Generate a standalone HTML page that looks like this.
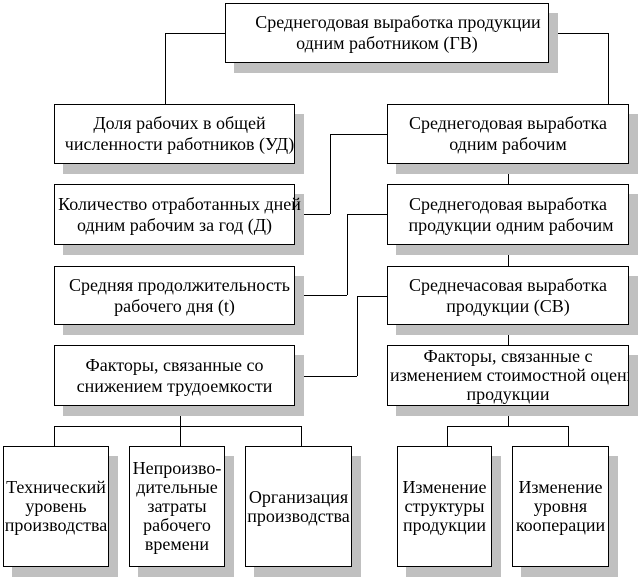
<!DOCTYPE html>
<html><head><meta charset="utf-8"><style>
body{margin:0;width:639px;height:580px;background:#fff;position:relative;overflow:hidden;font-family:"Liberation Serif","Times New Roman",serif;font-size:18px;color:#000}
.b{position:absolute;box-sizing:border-box;border:1px solid #000;background:#fff;box-shadow:9px 10px 0 #c0c0c0;display:flex;align-items:center;justify-content:center;text-align:center;line-height:21px;white-space:nowrap}
.b span{display:block}
.h{position:absolute;height:1px;background:#000}
.v{position:absolute;width:1px;background:#000}
.s{line-height:19px}
</style></head><body>
<div class="h" style="left:165px;top:33px;width:60px"></div>
<div class="v" style="left:165px;top:33px;height:71px"></div>
<div class="h" style="left:549px;top:33px;width:59px"></div>
<div class="v" style="left:608px;top:33px;height:71px"></div>
<div class="h" style="left:330px;top:134px;width:57px"></div>
<div class="v" style="left:330px;top:134px;height:80px"></div>
<div class="h" style="left:295px;top:214px;width:35px"></div>
<div class="h" style="left:347px;top:214px;width:40px"></div>
<div class="v" style="left:347px;top:214px;height:81px"></div>
<div class="h" style="left:295px;top:295px;width:52px"></div>
<div class="h" style="left:357px;top:296px;width:30px"></div>
<div class="v" style="left:357px;top:296px;height:80px"></div>
<div class="h" style="left:295px;top:376px;width:62px"></div>
<div class="v" style="left:508px;top:164px;height:262px"></div>
<div class="h" style="left:447px;top:426px;width:122px"></div>
<div class="v" style="left:447px;top:426px;height:20px"></div>
<div class="v" style="left:568px;top:426px;height:20px"></div>
<div class="v" style="left:180px;top:406px;height:40px"></div>
<div class="h" style="left:54px;top:426px;width:248px"></div>
<div class="v" style="left:54px;top:426px;height:20px"></div>
<div class="v" style="left:301px;top:426px;height:20px"></div>
<div class="b" style="left:225px;top:3px;width:324px;height:60px"><div><span style="margin-left:22px">Среднегодовая выработка продукции</span><span>одним работником (ГВ)</span></div></div>
<div class="b" style="left:54px;top:104px;width:241px;height:60px"><div><span style="margin-left:10px">Доля рабочих в общей</span><span style="margin-left:10px">численности работников (УД)</span></div></div>
<div class="b" style="left:387px;top:104px;width:242px;height:60px"><div><span>Среднегодовая выработка</span><span>одним рабочим</span></div></div>
<div class="b" style="left:54px;top:184px;width:241px;height:61px"><div><span style="margin-left:10px">Количество отработанных дней</span><span>одним рабочим за год (Д)</span></div></div>
<div class="b" style="left:387px;top:184px;width:242px;height:61px"><div><span>Среднегодовая выработка</span><span style="margin-left:6px">продукции одним рабочим</span></div></div>
<div class="b" style="left:54px;top:266px;width:241px;height:59px"><div><span style="margin-left:10px">Средняя продолжительность</span><span>рабочего дня (t)</span></div></div>
<div class="b" style="left:387px;top:266px;width:242px;height:59px"><div><span>Среднечасовая выработка</span><span>продукции (СВ)</span></div></div>
<div class="b" style="left:54px;top:345px;width:241px;height:61px"><div><span>Факторы, связанные со</span><span>снижением трудоемкости</span></div></div>
<div class="b s" style="left:387px;top:345px;width:242px;height:61px;overflow:hidden;justify-content:flex-start"><div style="width:100%"><span>Факторы, связанные с</span><span style="text-align:left;padding-left:2px">изменением стоимостной оценки</span><span>продукции</span></div></div>
<div class="b s" style="left:3px;top:446px;width:106px;height:121px"><div><span>Технический</span><span>уровень</span><span>производства</span></div></div>
<div class="b s" style="left:129px;top:446px;width:96px;height:121px"><div><span>Непроизво-</span><span>дительные</span><span>затраты</span><span>рабочего</span><span>времени</span></div></div>
<div class="b s" style="left:245px;top:446px;width:107px;height:121px"><div><span>Организация</span><span>производства</span></div></div>
<div class="b s" style="left:397px;top:446px;width:95px;height:121px"><div><span>Изменение</span><span>структуры</span><span>продукции</span></div></div>
<div class="b s" style="left:512px;top:446px;width:97px;height:121px"><div><span>Изменение</span><span>уровня</span><span>кооперации</span></div></div>
</body></html>
